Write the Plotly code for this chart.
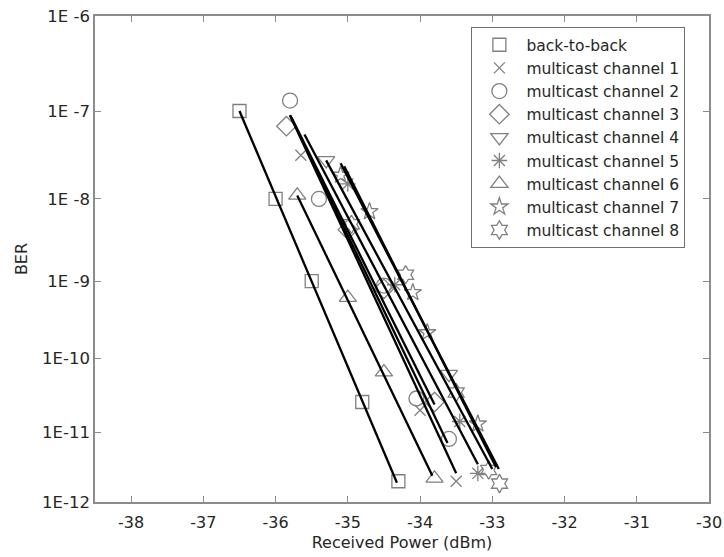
import math
import plotly.graph_objects as go

# ---------------- data ----------------
series_names = ["back-to-back", "multicast channel 1", "multicast channel 2",
                "multicast channel 3", "multicast channel 4", "multicast channel 5",
                "multicast channel 6", "multicast channel 7", "multicast channel 8"]

b2b_x = [-36.5, -36.0, -35.5, -34.8, -34.3]
b2b_ber = [1e-7, 1e-8, 1e-9, 2.6e-11, 2e-12]

ch1_x = [-35.65, -34.0, -33.5]
ch1_ber = [3.2e-8, 2e-11, 2e-12]

ch2_x = [-35.8, -35.4, -34.5, -34.05, -33.6]
ch2_ber = [1.3e-7, 1e-8, 8.8e-10, 2.9e-11, 8e-12]

ch3_x = [-35.85, -35.0, -34.5, -33.8]
ch3_ber = [6.8e-8, 4.3e-9, 8e-10, 2.6e-11]

ch4_x = [-35.3, -33.6]
ch4_ber = [2.8e-8, 6.2e-11]

ch5_x = [-35.0, -34.35, -33.45, -33.2]
ch5_ber = [1.5e-8, 9e-10, 1.4e-11, 2.6e-12]

ch6_x = [-35.7, -35.0, -34.5, -33.8]
ch6_ber = [1.1e-8, 6.2e-10, 6.6e-11, 2.2e-12]

ch7_x = [-35.1, -34.7, -34.1, -33.9, -33.2]
ch7_ber = [1.9e-8, 7.1e-9, 7.2e-10, 2.2e-10, 1.3e-11]

ch8_x = [-34.95, -34.2, -33.5, -33.05, -32.9]
ch8_ber = [5e-9, 1.2e-9, 3.5e-11, 2.9e-12, 1.85e-12]

# linear-fit line end points (one per series, same order as series_names)
fit_x0 = [-36.5, -35.8, -35.8, -35.78, -35.3, -35.6, -35.7, -35.1, -35.05]
fit_ber0 = [1e-7, 9e-8, 9e-8, 8.5e-8, 2.8e-8, 5.5e-8, 1.1e-8, 2.6e-8, 2.4e-8]
fit_x1 = [-34.32, -33.5, -33.62, -33.8, -33.0, -33.2, -33.83, -32.91, -32.95]
fit_ber1 = [1.9e-12, 2.6e-12, 7e-12, 2.4e-11, 3e-12, 3.5e-12, 2.4e-12, 3e-12, 3.2e-12]

x_ticks = [-38, -37, -36, -35, -34, -33, -32, -31, -30]
x_ticktext = ["-38", "-37", "-36", "-35", "-34", "-33", "-32", "-31", "-30"]
y_tick_ber = [1e-6, 1e-7, 1e-8, 1e-9, 1e-10, 1e-11, 1e-12]
y_ticktext = ["1E -6", "1E -7", "1E -8", "1E -9", "1E-10", "1E-11", "1E-12"]

symbols = ["square-open", "x-thin-open", "circle-open", "diamond-open",
           "triangle-down-open", "asterisk-open", "triangle-up-open",
           "star-open", "hexagram-open"]
sizes = [13, 11, 15, 15, 15, 13, 15, 13, 14]


# BER -> Q factor (BER scale axis, linear in Q)
def ber_to_q(ber):
    lo, hi = 0.0, 12.0
    for _ in range(100):
        mid = 0.5 * (lo + hi)
        if 0.5 * math.erfc(mid / math.sqrt(2)) > ber:
            lo = mid
        else:
            hi = mid
    return 0.5 * (lo + hi)


all_x = [b2b_x, ch1_x, ch2_x, ch3_x, ch4_x, ch5_x, ch6_x, ch7_x, ch8_x]
all_ber = [b2b_ber, ch1_ber, ch2_ber, ch3_ber, ch4_ber, ch5_ber, ch6_ber, ch7_ber, ch8_ber]

fig = go.Figure()
mcol = "#808080"
for name, xs, bs, sym, sz in zip(series_names, all_x, all_ber, symbols, sizes):
    fig.add_trace(go.Scatter(
        x=xs, y=[ber_to_q(b) for b in bs], mode="markers", name=name,
        marker=dict(symbol=sym, size=sz, color=mcol, line=dict(color=mcol, width=1.3)),
    ))

for i in range(len(series_names)):
    fig.add_trace(go.Scatter(
        x=[fit_x0[i], fit_x1[i]],
        y=[ber_to_q(fit_ber0[i]), ber_to_q(fit_ber1[i])],
        mode="lines", showlegend=False, hoverinfo="skip",
        line=dict(color="black", width=2.3),
    ))

font_family = "DejaVu Sans"
axis_col = "#8c8c8c"
fig.update_layout(
    width=724, height=557,
    margin=dict(l=95, r=15, t=16, b=55),
    paper_bgcolor="white", plot_bgcolor="white",
    font=dict(family=font_family, size=16, color="#262626"),
    showlegend=True,
    legend=dict(
        x=0.613, y=0.977, xanchor="left", yanchor="top",
        bgcolor="white", bordercolor="#6f6f6f", borderwidth=1,
        font=dict(family=font_family, size=15.5, color="#262626"),
        tracegroupgap=0, itemwidth=44,
    ),
    xaxis=dict(
        range=[-38.5, -30], tickvals=x_ticks, ticktext=x_ticktext,
        showgrid=False, zeroline=False, showline=True, linecolor=axis_col,
        linewidth=1.5, mirror="ticks", ticks="inside", ticklen=6,
        tickcolor=axis_col, ticklabelstandoff=5, automargin=False,
        ticklabeloverflow="allow",
        title=dict(text="Received Power (dBm)", standoff=6,
                   font=dict(family=font_family, size=16)),
        tickfont=dict(family=font_family, size=16),
    ),
    yaxis=dict(
        range=[ber_to_q(1e-12), ber_to_q(1e-6)],
        tickvals=[ber_to_q(b) for b in y_tick_ber], ticktext=y_ticktext,
        showgrid=False, zeroline=False, showline=True, linecolor=axis_col,
        linewidth=1.5, mirror="ticks", ticks="inside", ticklen=6,
        tickcolor=axis_col, automargin=False, ticklabeloverflow="allow",
        title=dict(text="BER", standoff=10,
                   font=dict(family=font_family, size=16)),
        tickfont=dict(family=font_family, size=16.5),
    ),
)

fig.write_html("out.html")
